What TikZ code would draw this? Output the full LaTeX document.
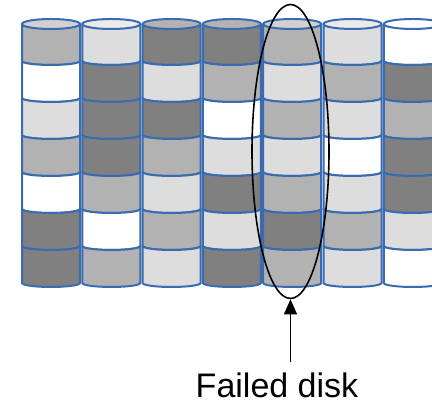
\documentclass[tikz,border=0pt]{standalone}
\usepackage{fontspec}
\setmainfont{Liberation Sans}
\usetikzlibrary{shapes.geometric,arrows.meta}

\definecolor{rim}{HTML}{3A6BB0}
\definecolor{dk}{HTML}{808080}
\definecolor{md}{HTML}{B2B2B2}
\definecolor{lt}{HTML}{DDDDDD}
\definecolor{wt}{HTML}{FFFFFF}

\begin{document}
\begin{tikzpicture}[x=1pt,y=1pt]
\tikzset{
  BlockStyle/.style = {draw=rim, line width=2pt, line join=round},
  RingStyle/.style  = {draw=black, line width=1.6pt, ellipse, inner sep=0pt,
                       minimum width=77pt, minimum height=294pt},
  LabelStyle/.style = {font=\fontsize{34}{40}\selectfont, inner sep=0pt},
}
\useasboundingbox (0,0) rectangle (432,406);

  % seven disks, blocks listed from top to bottom
  \begin{scope}
    \clip (0,0) rectangle (432,406);
    \foreach \disk [count=\i from 0] in {
        {md,wt,lt,md,wt,dk,dk},
        {lt,dk,dk,dk,md,wt,md},
        {dk,lt,dk,md,lt,md,lt},
        {dk,md,wt,lt,dk,lt,dk},
        {md,lt,md,lt,md,dk,md},
        {lt,md,lt,wt,lt,md,lt},
        {wt,dk,md,dk,dk,lt,wt}} {
      \pgfmathsetmacro{\xl}{22+60.3*\i}
      \foreach \c [count=\j from 0] in \disk {
        \pgfmathsetmacro{\yt}{382-37*\j}
        \path[BlockStyle, fill=\c]
          (\xl,\yt) -- (\xl,\yt-37)
          arc[start angle=180, end angle=360, x radius=29, y radius=4]
          -- (\xl+58,\yt)
          arc[start angle=0, end angle=-180, x radius=29, y radius=4] -- cycle;
        \ifnum\j=0
          \path[BlockStyle, fill=\c!60!white]
            (\xl+29,\yt) ellipse[x radius=29, y radius=5];
        \fi
      }
    }
  \end{scope}

  \node[RingStyle] (ring) at (290.5,254.5) {};
  \node[LabelStyle, anchor=base] (failed) at (277,8) {Failed disk};

  \draw[-{Triangle[width=13pt,length=15pt]}, line width=1.3pt]
    (failed.north -| ring.south) ++(0,11) -- (ring.south);

\end{tikzpicture}
\end{document}
